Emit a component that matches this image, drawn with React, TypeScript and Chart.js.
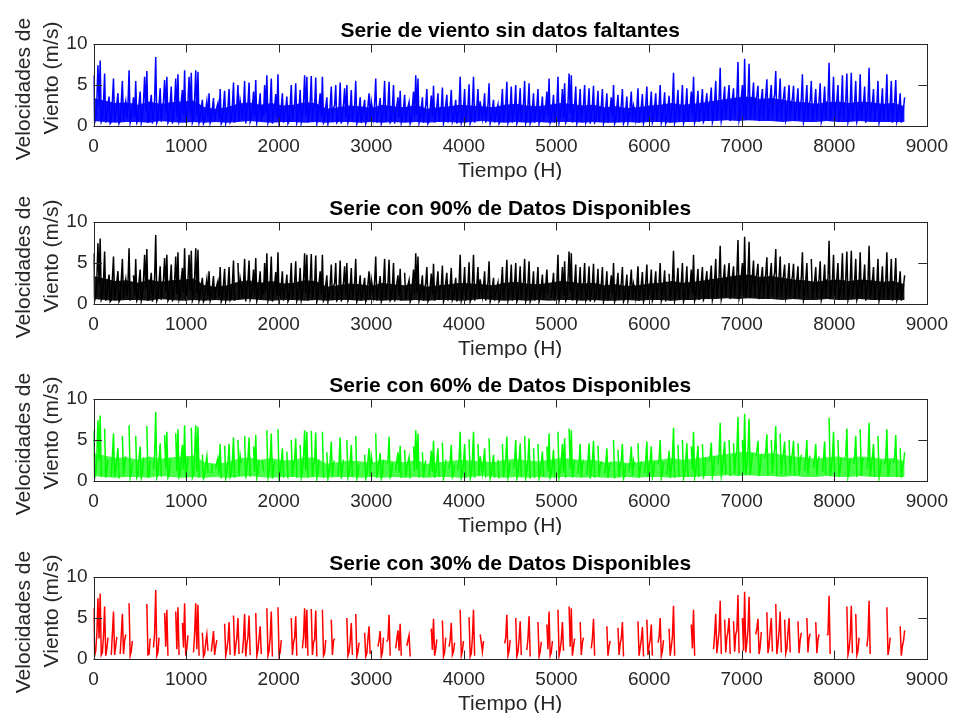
import React, { useEffect, useRef } from 'react';
import { Chart, registerables } from 'chart.js';

Chart.register(...registerables);

// Sampling step of the wind series (hours between read samples)
const STEP_H = 24;

// Wind speed samples (m/s), one every STEP_H hours (at hour i*STEP_H)
const VIENTO: number[] = [
  6.2, 1.0, 7.4, 8.0, 0.8, 6.4, 1.2, 3.6, 0.5, 5.8, 1.5, 4.0, 0.6, 5.5, 2.2, 0.9, 6.8, 1.0, 3.5, 5.5, 0.7,
  4.2, 1.1, 6.0, 6.7, 0.6, 3.8, 1.4, 8.4, 0.8, 4.6, 1.9, 5.6, 6.0, 0.7, 4.8, 1.2, 5.8, 6.3, 0.9, 4.4, 6.8,
  1.3, 6.0, 6.5, 0.8, 6.8, 6.6, 1.0, 3.2, 0.6, 3.0, 4.0, 0.9, 3.4, 1.5, 2.8, 4.5, 0.7, 4.3, 1.2, 4.5, 0.8,
  5.3, 1.6, 5.0, 3.1, 0.7, 5.5, 1.8, 5.3, 0.9, 4.2, 5.6, 1.1, 4.0, 2.5, 5.0, 6.2, 1.0, 5.8, 1.4, 3.9, 6.3,
  0.8, 4.0, 1.5, 3.6, 0.6, 5.0, 2.0, 5.2, 1.0, 4.4, 1.3, 6.2, 6.0, 1.2, 6.1, 2.0, 5.9, 1.0, 4.0, 6.0, 0.7,
  3.5, 1.1, 4.8, 2.2, 5.0, 0.6, 5.3, 1.4, 4.6, 5.0, 0.8, 4.4, 1.9, 5.5, 0.9, 3.5, 1.3, 3.2, 0.7, 4.0, 3.0,
  1.0, 5.8, 1.5, 3.4, 0.8, 5.5, 2.1, 5.4, 0.6, 5.0, 1.3, 3.5, 4.3, 0.9, 3.8, 1.6, 2.9, 0.7, 4.2, 6.2, 5.8,
  1.0, 3.5, 1.8, 4.5, 0.6, 3.7, 4.9, 1.2, 4.0, 2.0, 4.7, 0.8, 3.8, 1.5, 4.4, 0.9, 3.2, 1.3, 6.0, 1.0, 4.5,
  1.4, 5.1, 0.7, 6.0, 1.6, 4.5, 3.0, 0.9, 4.0, 1.8, 5.2, 0.8, 3.2, 1.4, 2.6, 0.6, 4.5, 1.9, 5.4, 1.0, 4.8,
  1.5, 5.0, 0.8, 4.6, 2.2, 5.5, 1.1, 5.2, 0.7, 4.0, 1.6, 4.5, 0.9, 3.6, 1.4, 4.2, 5.8, 0.8, 3.8, 1.7, 6.0,
  1.1, 4.5, 5.2, 0.7, 6.4, 6.2, 1.5, 4.8, 0.9, 4.5, 2.0, 5.0, 0.8, 4.6, 1.3, 4.9, 0.6, 4.3, 1.8, 4.5, 0.9,
  4.0, 1.5, 3.5, 5.0, 0.8, 3.8, 1.9, 4.5, 0.7, 3.6, 1.2, 4.2, 2.5, 0.8, 4.6, 1.4, 3.9, 0.9, 4.8, 1.6, 4.2,
  0.8, 4.0, 2.0, 5.0, 1.0, 4.1, 0.7, 3.7, 1.5, 6.5, 1.1, 4.4, 2.1, 5.0, 0.8, 4.6, 1.8, 4.2, 6.0, 1.0, 4.3,
  1.6, 4.5, 0.8, 4.0, 2.4, 4.7, 1.2, 5.5, 2.0, 7.1, 1.3, 4.8, 2.6, 5.0, 1.5, 4.6, 3.0, 7.8, 1.4, 5.0, 8.2,
  2.0, 7.6, 1.8, 5.3, 3.0, 4.9, 1.5, 4.5, 2.8, 5.7, 1.6, 5.0, 3.2, 6.7, 1.8, 5.8, 2.5, 4.8, 1.3, 5.0, 2.7,
  4.9, 1.5, 4.6, 2.3, 6.3, 1.2, 5.0, 2.6, 5.5, 1.6, 4.5, 2.4, 5.2, 1.1, 4.8, 2.9, 7.7, 1.5, 6.0, 2.2, 5.0,
  1.4, 6.2, 2.5, 6.4, 1.2, 6.5, 2.1, 5.5, 1.0, 6.3, 2.3, 4.8, 1.5, 7.1, 1.8, 4.5, 2.2, 5.5, 1.1, 4.6, 2.0,
  6.3, 1.3, 5.5, 2.2, 5.6, 1.0, 4.0, 1.6, 3.5,
];

// Intermediate wind samples (m/s) read between consecutive samples (at hour i*STEP_H + STEP_H/2)
const VIENTO_MEDIO: number[] = [
  0.4, 3.0, 2.5, 0.5, 2.8, 0.4, 2.6, 0.3, 3.1, 0.5, 2.7, 0.3, 2.9, 0.6, 3.0, 2.4, 0.4, 2.2, 1.0, 0.4, 2.8,
  0.4, 2.9, 1.8, 0.5, 2.5, 0.3, 3.2, 0.4, 2.6, 0.5, 3.0, 1.5, 0.4, 2.7, 0.3, 2.8, 1.2, 0.5, 3.0, 1.4, 0.4,
  2.9, 1.6, 0.4, 3.1, 1.2, 0.4, 2.2, 0.3, 2.0, 1.0, 0.4, 2.1, 0.5, 2.3, 0.9, 0.3, 2.4, 0.4, 2.2, 0.5, 2.5,
  0.4, 2.6, 0.6, 2.2, 2.4, 0.3, 2.7, 0.5, 2.3, 1.1, 0.4, 2.5, 0.6, 1.2, 1.5, 0.4, 2.6, 0.3, 2.4, 1.0, 0.4,
  2.3, 0.4, 2.1, 0.3, 2.5, 0.5, 2.6, 0.4, 2.2, 0.5, 2.7, 1.3, 0.4, 2.8, 0.5, 2.4, 0.3, 2.6, 1.1, 0.4, 2.3,
  0.3, 2.4, 0.5, 2.5, 0.4, 2.2, 0.3, 2.6, 1.0, 0.4, 2.1, 0.5, 2.4, 0.3, 2.0, 0.4, 2.2, 0.3, 2.5, 0.6, 2.1,
  2.7, 0.4, 2.3, 0.3, 2.6, 0.5, 2.4, 0.4, 2.2, 0.3, 2.5, 1.0, 0.4, 2.1, 0.5, 2.3, 0.3, 2.4, 1.2, 1.4, 0.4,
  2.2, 0.4, 2.5, 0.3, 2.1, 1.1, 0.4, 2.4, 0.5, 2.2, 0.3, 2.6, 0.4, 2.3, 0.5, 2.0, 0.3, 2.5, 0.4, 2.2, 0.4,
  2.4, 0.3, 2.6, 0.4, 2.3, 0.6, 2.0, 2.2, 0.4, 2.5, 0.3, 2.1, 0.4, 2.0, 0.3, 2.4, 0.5, 2.6, 0.4, 2.3, 0.4,
  2.5, 0.3, 2.4, 0.5, 2.6, 0.4, 2.5, 0.3, 2.2, 0.4, 2.4, 0.3, 2.1, 0.5, 2.3, 1.2, 0.4, 2.2, 0.4, 2.6, 0.4,
  2.3, 1.0, 0.4, 2.7, 1.5, 0.4, 2.5, 0.3, 2.3, 0.5, 2.6, 0.4, 2.4, 0.3, 2.5, 0.4, 2.2, 0.5, 2.4, 0.3, 2.1,
  0.4, 2.2, 1.1, 0.3, 2.3, 0.5, 2.5, 0.3, 2.1, 0.4, 2.4, 0.6, 1.9, 2.3, 0.4, 2.4, 0.3, 2.6, 0.5, 2.3, 0.4,
  2.4, 0.5, 2.6, 0.4, 2.3, 0.3, 2.2, 0.4, 2.7, 0.4, 2.5, 0.5, 2.6, 0.3, 2.4, 0.5, 2.5, 1.3, 0.4, 2.6, 0.5,
  2.8, 0.5, 2.9, 0.6, 3.1, 0.5, 3.0, 0.7, 3.3, 0.6, 3.2, 0.8, 3.4, 0.6, 3.3, 0.9, 3.5, 0.7, 3.4, 1.0, 0.8,
  3.6, 0.7, 3.4, 0.9, 3.7, 0.6, 3.3, 0.8, 3.6, 0.7, 3.5, 0.9, 3.8, 0.6, 3.4, 0.8, 3.5, 0.7, 3.2, 0.8, 3.3,
  0.6, 3.0, 0.7, 3.2, 0.5, 2.9, 0.8, 3.1, 0.6, 2.8, 0.7, 3.0, 0.5, 2.7, 0.8, 3.0, 0.6, 2.9, 0.7, 3.1, 0.5,
  2.8, 0.6, 3.0, 0.5, 2.7, 0.7, 2.9, 0.5, 2.6, 0.6, 2.8, 0.4, 2.7, 0.6, 2.9, 0.5, 2.6, 0.4, 2.5, 0.6, 2.7,
  0.5, 2.6, 0.4, 2.8, 0.5, 2.4, 0.4, 2.2,
];

// Step (hours) of the dense-band envelope
const BANDA_STEP_H = 120;
// Upper edge (m/s) of the densely filled region of the hourly series, every BANDA_STEP_H hours
const BANDA_SUP: number[] = [
  3.4, 3.1, 2.8, 2.9, 2.6, 3.0, 2.7, 2.9, 3.0, 3.1,
  2.3, 2.1, 2.3, 2.7, 2.9, 2.6, 2.8, 2.5, 2.6, 2.9,
  2.8, 2.1, 2.3, 2.5, 2.4, 2.2, 2.6, 2.4, 2.3, 2.6,
  2.1, 2.3, 2.4, 2.6, 2.5, 2.4, 2.3, 2.6, 2.7, 2.5,
  2.4, 2.6, 2.8, 2.7, 2.5, 2.6, 2.3, 2.4, 2.2, 2.3,
  2.5, 2.6, 2.8, 2.6, 2.7, 2.9, 3.1, 3.3, 3.5, 3.6,
  3.3, 3.4, 3.2, 3.0, 2.9, 2.7, 2.9, 3.0, 2.8, 3.0,
  2.9, 2.7, 2.8, 2.4,
];
// Lower edge (m/s) of the densely filled region, every BANDA_STEP_H hours
const BANDA_INF: number[] = [
  0.6, 0.5, 0.4, 0.5, 0.5, 0.4, 0.6, 0.5, 0.4, 0.5,
  0.4, 0.5, 0.4, 0.5, 0.6, 0.5, 0.4, 0.5, 0.5, 0.4,
  0.5, 0.4, 0.5, 0.5, 0.4, 0.5, 0.4, 0.5, 0.4, 0.5,
  0.4, 0.5, 0.5, 0.4, 0.5, 0.6, 0.5, 0.4, 0.5, 0.4,
  0.5, 0.4, 0.5, 0.5, 0.4, 0.5, 0.4, 0.4, 0.5, 0.4,
  0.5, 0.5, 0.4, 0.5, 0.5, 0.6, 0.6, 0.7, 0.6, 0.7,
  0.6, 0.6, 0.5, 0.6, 0.5, 0.5, 0.6, 0.5, 0.5, 0.6,
  0.5, 0.5, 0.5, 0.5,
];
// Opacity of the dense band in each panel (the 30% series has no dense band)
const BANDA_OPACIDAD: number[] = [0.92, 0.92, 0.72, 0];

// Sample indices missing in the 90% series
const FALTANTES_90: number[] = [17, 64, 139, 205, 258, 322];

// Sample indices missing in the 60% series
const FALTANTES_60: number[] = [
  4, 7, 12, 15, 18, 23, 26, 31, 35, 36, 43, 48, 52, 54, 58, 64, 67, 71, 75, 77, 82, 86, 88, 92, 97, 102,
  104, 109, 113, 117, 120, 121, 126, 131, 135, 139, 143, 147, 150, 156, 159, 163, 168, 172, 177, 181, 183,
  188, 193, 197, 199, 203, 208, 213, 217, 221, 226, 229, 233, 235, 240, 244, 247, 253, 257, 262, 264, 268,
  273, 276, 280, 285, 287, 291, 297, 301, 304, 308, 312, 316, 319, 323, 327, 330, 334, 337, 341, 344, 347,
  352, 355, 359, 362,
];

// Sample index ranges (inclusive) that remain available in the 30% series
const PRESENTES_30: [number, number][] = [
  [0, 6], [8, 10], [12, 14], [16, 17], [24, 25], [27, 29], [32, 33], [37, 38], [40, 42], [45, 47], [49, 51],
  [53, 55], [59, 61], [63, 65], [67, 70], [73, 75], [78, 80], [83, 84], [89, 91], [94, 96], [98, 100],
  [103, 104], [107, 108], [114, 116], [118, 119], [122, 124], [128, 130], [132, 133], [136, 138], [141, 142],
  [152, 154], [157, 158], [160, 162], [165, 166], [169, 171], [174, 175], [185, 187], [190, 192], [195, 196],
  [200, 201], [204, 206], [209, 211], [214, 216], [219, 220], [224, 225], [231, 232], [236, 238], [245, 247],
  [249, 251], [254, 256], [259, 261], [269, 270], [279, 282], [284, 286], [288, 290], [292, 295], [298, 300],
  [303, 305], [307, 309], [311, 313], [317, 318], [321, 322], [325, 326], [330, 331], [339, 341], [343, 344],
  [348, 349], [357, 358], [363, 365],
];

const TITULOS: string[] = [
  'Serie de viento sin datos faltantes',
  'Serie con 90% de Datos Disponibles',
  'Serie con 60% de Datos Disponibles',
  'Serie con 30% de Datos Disponibles',
];
const COLORES_RGB: [number, number, number][] = [[0, 0, 255], [0, 0, 0], [0, 255, 0], [255, 0, 0]];
const X_TICKS: number[] = [0, 1000, 2000, 3000, 4000, 5000, 6000, 7000, 8000, 9000];
const Y_TICKS: number[] = [0, 5, 10];
const X_LABEL = 'Tiempo (H)';
const Y_LABEL: string[] = ['Velocidades de', 'Viento (m/s)'];

const FONT = '"Liberation Sans", Arial, Helvetica, sans-serif';
const AXIS_COLOR = '#262626';
const CANVAS_W = 957;
const CANVAS_H = 180;
const PANEL_TOPS = [0, 178, 355, 533];

type Pt = { x: number; y: number | null };

function rgba(k: number, a: number): string {
  const [r, g, b] = COLORES_RGB[k];
  return `rgba(${r},${g},${b},${a})`;
}

function isPresent(k: number, i: number): boolean {
  if (k === 1) return !FALTANTES_90.includes(i);
  if (k === 2) return !FALTANTES_60.includes(i);
  if (k === 3) return PRESENTES_30.some(([a, b]) => i >= a && i <= b);
  return true;
}

function buildSeries(k: number): Pt[] {
  const pts: Pt[] = [];
  VIENTO.forEach((v, i) => {
    const keep = isPresent(k, i);
    pts.push({ x: i * STEP_H, y: keep ? v : null });
    if (i < VIENTO_MEDIO.length) {
      pts.push({ x: i * STEP_H + STEP_H / 2, y: keep ? VIENTO_MEDIO[i] : null });
    }
  });
  return pts;
}

function buildBand(arr: number[]): Pt[] {
  return arr.map((v, j) => ({ x: Math.min(j * BANDA_STEP_H, 8760), y: v }));
}

function makeFramePlugin(title: string) {
  return {
    id: 'matlabFrame',
    afterDraw(chart: any) {
      const { ctx, chartArea } = chart;
      const { left, right, top, bottom } = chartArea;
      const xs = chart.scales.x;
      const ys = chart.scales.y;
      const tl = 8.5;
      ctx.save();
      ctx.strokeStyle = AXIS_COLOR;
      ctx.lineWidth = 1;
      ctx.beginPath();
      for (const v of X_TICKS) {
        const px = Math.round(xs.getPixelForValue(v)) + 0.5;
        ctx.moveTo(px, bottom);
        ctx.lineTo(px, bottom - tl);
        ctx.moveTo(px, top);
        ctx.lineTo(px, top + tl);
      }
      for (const v of Y_TICKS) {
        const py = Math.round(ys.getPixelForValue(v)) + 0.5;
        ctx.moveTo(left, py);
        ctx.lineTo(left + tl, py);
        ctx.moveTo(right, py);
        ctx.lineTo(right - tl, py);
      }
      ctx.stroke();
      ctx.strokeRect(Math.round(left) + 0.5, Math.round(top) + 0.5, Math.round(right - left), Math.round(bottom - top));

      const cx = (left + right) / 2;
      ctx.fillStyle = '#000000';
      ctx.font = `bold 21px ${FONT}`;
      ctx.textAlign = 'center';
      ctx.textBaseline = 'alphabetic';
      ctx.fillText(title, cx, top - 7);

      ctx.fillStyle = AXIS_COLOR;
      ctx.font = `21px ${FONT}`;
      ctx.fillText(X_LABEL, cx, bottom + 51);

      const cy = (top + bottom) / 2;
      const lines = [
        { text: Y_LABEL[0], x: 30, y: cy + 4 },
        { text: Y_LABEL[1], x: 58, y: cy - 7 },
      ];
      for (const l of lines) {
        ctx.save();
        ctx.translate(l.x, l.y);
        ctx.rotate(-Math.PI / 2);
        ctx.fillText(l.text, 0, 0);
        ctx.restore();
      }
      ctx.restore();
    },
  };
}

function Panel({ k }: { k: number }) {
  const ref = useRef<HTMLCanvasElement | null>(null);
  useEffect(() => {
    if (!ref.current) return;
    const datasets: any[] = [
      {
        data: buildSeries(k),
        borderColor: rgba(k, 1),
        borderWidth: 1.5,
        pointRadius: 0,
        tension: 0,
        spanGaps: false,
        fill: false,
      },
    ];
    if (BANDA_OPACIDAD[k] > 0) {
      datasets.push(
        {
          data: buildBand(BANDA_SUP),
          borderWidth: 0,
          borderColor: 'rgba(0,0,0,0)',
          backgroundColor: rgba(k, BANDA_OPACIDAD[k]),
          pointRadius: 0,
          tension: 0,
          fill: '+1',
        },
        {
          data: buildBand(BANDA_INF),
          borderWidth: 0,
          borderColor: 'rgba(0,0,0,0)',
          pointRadius: 0,
          tension: 0,
          fill: false,
        },
      );
    }
    const chart = new Chart(ref.current, {
      type: 'line',
      data: { datasets },
      options: {
        responsive: false,
        animation: false,
        events: [],
        layout: { padding: { top: 44, left: 0, right: 26, bottom: 0 } },
        plugins: { legend: { display: false }, tooltip: { enabled: false }, title: { display: false } },
        scales: {
          x: {
            type: 'linear',
            min: 0,
            max: 9000,
            afterBuildTicks: (s: any) => {
              s.ticks = X_TICKS.map((v) => ({ value: v }));
            },
            afterFit: (s: any) => {
              s.height = 54;
            },
            grid: { display: false, drawTicks: false },
            border: { display: false },
            ticks: {
              color: AXIS_COLOR,
              font: { family: FONT, size: 19 },
              padding: 9,
              maxRotation: 0,
              autoSkip: false,
              callback: (v: any) => String(v),
            },
          },
          y: {
            type: 'linear',
            min: 0,
            max: 10,
            afterBuildTicks: (s: any) => {
              s.ticks = Y_TICKS.map((v) => ({ value: v }));
            },
            afterFit: (s: any) => {
              s.width = 93.5;
            },
            grid: { display: false, drawTicks: false },
            border: { display: false },
            ticks: {
              color: AXIS_COLOR,
              font: { family: FONT, size: 19 },
              padding: 6,
              callback: (v: any) => String(v),
            },
          },
        },
      },
      plugins: [makeFramePlugin(TITULOS[k])],
    });
    return () => chart.destroy();
  }, [k]);
  return (
    <canvas
      ref={ref}
      width={CANVAS_W}
      height={CANVAS_H}
      style={{ position: 'absolute', left: 0, top: PANEL_TOPS[k], width: CANVAS_W, height: CANVAS_H }}
    />
  );
}

export default function App() {
  return (
    <div style={{ position: 'fixed', left: 0, top: 0, width: 957, height: 717, background: '#ffffff', overflow: 'hidden' }}>
      {[0, 1, 2, 3].map((k) => (
        <Panel key={k} k={k} />
      ))}
    </div>
  );
}
